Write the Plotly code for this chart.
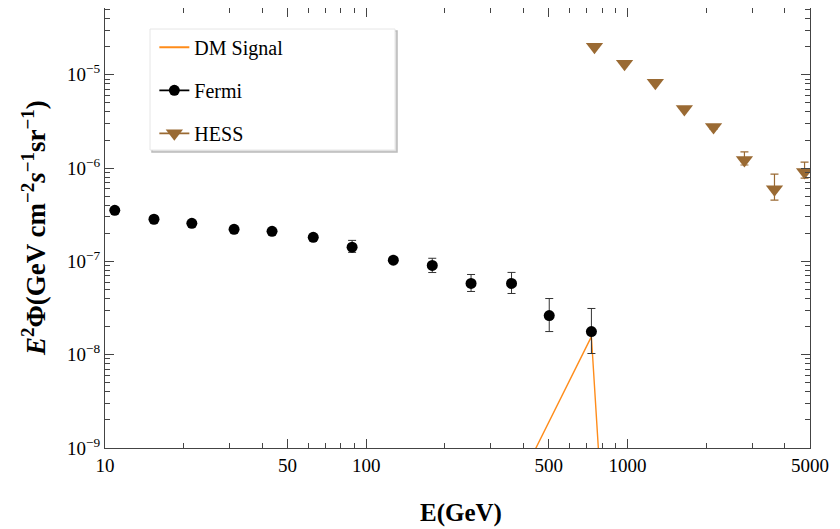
import plotly.graph_objects as go
import numpy as np

# Fermi data
fermi_E = [10.9, 15.4, 21.5, 31.2, 43.6, 62.7, 88.3, 127, 179, 252, 360, 502, 728]
fermi_flux = [3.53e-7, 2.83e-7, 2.56e-7, 2.21e-7, 2.10e-7, 1.81e-7, 1.42e-7, 1.03e-7, 9.06e-8, 5.8e-8, 5.8e-8, 2.63e-8, 1.77e-8]
fermi_hi = [3.6e-7, 2.9e-7, 2.62e-7, 2.38e-7, 2.15e-7, 1.95e-7, 1.68e-7, 1.10e-7, 1.08e-7, 7.24e-8, 7.62e-8, 4.0e-8, 3.13e-8]
fermi_lo = [3.46e-7, 2.76e-7, 2.50e-7, 2.05e-7, 2.05e-7, 1.68e-7, 1.25e-7, 0.96e-7, 7.6e-8, 4.76e-8, 4.53e-8, 1.77e-8, 1.03e-8]

# HESS data
hess_E = [748, 975, 1279, 1652, 2136, 2805, 3656, 4766]
hess_flux = [2.0e-5, 1.31e-5, 8.2e-6, 4.31e-6, 2.76e-6, 1.22e-6, 5.94e-7, 9.06e-7]
hess_hi = [2.0e-5, 1.31e-5, 8.2e-6, 4.31e-6, 2.9e-6, 1.49e-6, 8.6e-7, 1.16e-6]
hess_lo = [2.0e-5, 1.31e-5, 8.2e-6, 4.31e-6, 2.62e-6, 1.08e-6, 4.53e-7, 7.8e-7]

# DM signal
dm_E = [420, 728, 780]
dm_flux = [7.1e-10, 1.56e-8, 7.0e-10]

x_ticks = [10, 50, 100, 500, 1000, 5000]
x_ticklabels = ["10", "50", "100", "500", "1000", "5000"]
y_ticks = [1e-9, 1e-8, 1e-7, 1e-6, 1e-5]
y_ticklabels = ["10<sup>−9</sup>", "10<sup>−8</sup>", "10<sup>−7</sup>", "10<sup>−6</sup>", "10<sup>−5</sup>"]

SERIF = "Liberation Serif"
FERMI_C = "black"
HESS_C = "#9a6a33"
DM_C = "#ff8c1a"
AX_C = "#444444"

fig = go.Figure()

fig.add_trace(go.Scatter(
    x=dm_E, y=dm_flux, mode="lines", name="DM Signal",
    line=dict(color=DM_C, width=1.4), legendgroup="a", showlegend=False,
))
fig.add_trace(go.Scatter(
    x=[None], y=[None], mode="lines", name="DM Signal",
    line=dict(color=DM_C, width=2), legendgroup="a",
))

f_up = [h - v for h, v in zip(fermi_hi, fermi_flux)]
f_dn = [v - l for l, v in zip(fermi_lo, fermi_flux)]
fig.add_trace(go.Scatter(
    x=fermi_E, y=fermi_flux, mode="markers", name="Fermi",
    marker=dict(symbol="circle", size=11, color=FERMI_C),
    error_y=dict(type="data", symmetric=False, array=f_up, arrayminus=f_dn,
                 color="#333333", thickness=1, width=4),
    legendgroup="b", showlegend=False,
))
fig.add_trace(go.Scatter(
    x=[None], y=[None], mode="lines+markers", name="Fermi",
    line=dict(color=FERMI_C, width=1.8),
    marker=dict(symbol="circle", size=11, color=FERMI_C),
    legendgroup="b",
))

h_up = [h - v for h, v in zip(hess_hi, hess_flux)]
h_dn = [v - l for l, v in zip(hess_lo, hess_flux)]
fig.add_trace(go.Scatter(
    x=hess_E, y=hess_flux, mode="markers", name="HESS",
    marker=dict(symbol="triangle-down", size=15, color=HESS_C),
    error_y=dict(type="data", symmetric=False, array=h_up, arrayminus=h_dn,
                 color=HESS_C, thickness=1.2, width=4),
    legendgroup="c", showlegend=False,
))
fig.add_trace(go.Scatter(
    x=[None], y=[None], mode="lines+markers", name="HESS",
    line=dict(color=HESS_C, width=1.8),
    marker=dict(symbol="triangle-down", size=15, color=HESS_C),
    legendgroup="c",
))

# minor tick positions
xminor = [m * 10 ** d for d in range(1, 4) for m in range(2, 10) if m * 10 ** d <= 5000]
yminor = [m * 10.0 ** d for d in range(-9, -4) for m in range(2, 10)]

fig.update_xaxes(
    type="log", range=[np.log10(10), np.log10(5000)],
    tickvals=x_ticks, ticktext=x_ticklabels,
    ticks="inside", ticklen=9, tickcolor=AX_C, tickwidth=1,
    showline=True, linecolor=AX_C, linewidth=1.2, mirror="ticks",
    showgrid=False, zeroline=False,
    tickfont=dict(family=SERIF, size=19, color="black"),
    minor=dict(tickvals=xminor, ticks="inside", ticklen=5, tickcolor=AX_C, showgrid=False),
)
fig.update_yaxes(
    type="log", range=[-9, np.log10(5.2e-5)],
    tickvals=y_ticks, ticktext=y_ticklabels,
    ticks="inside", ticklen=9, tickcolor=AX_C, tickwidth=1,
    showline=True, linecolor=AX_C, linewidth=1.2, mirror="ticks",
    showgrid=False, zeroline=False,
    tickfont=dict(family=SERIF, size=19, color="black"),
    minor=dict(tickvals=yminor, ticks="inside", ticklen=5, tickcolor=AX_C, showgrid=False),
)

# page has an 8px body margin; figure occupies 8..840 x 8..529
OFF = 8
W, H = 840 - OFF, 529 - OFF
L, R, T, B = 105 - OFF, 30, 8 - OFF, 81
fig.update_layout(
    width=W, height=H,
    margin=dict(l=L, r=R, t=T, b=B, pad=0),
    paper_bgcolor="white", plot_bgcolor="white",
    showlegend=True,
    legend=dict(
        x=0.07, y=0.955, xanchor="left", yanchor="top",
        bgcolor="rgba(0,0,0,0)", borderwidth=0,
        font=dict(family=SERIF, size=20, color="black"),
        traceorder="grouped", tracegroupgap=14,
    ),
    font=dict(family=SERIF),
)

pw = W - L - R
ph = H - T - B
def px(xp):
    return (xp - OFF - L) / pw
def py(yp):
    return (H - B - (yp - OFF)) / ph

# legend box (shadow + frame)
fig.add_shape(type="rect", xref="paper", yref="paper",
              x0=px(152), x1=px(397), y0=py(152), y1=py(31),
              line=dict(color="#bbbbbb", width=1.5), fillcolor="#dddddd", layer="above")
fig.add_shape(type="rect", xref="paper", yref="paper",
              x0=px(150), x1=px(395), y0=py(150), y1=py(29),
              line=dict(color="#e6e6e6", width=1), fillcolor="white", layer="above")

fig.add_annotation(
    text="<b>E(GeV)</b>", xref="paper", yref="paper",
    x=px(461), y=py(513), xanchor="center", yanchor="middle",
    showarrow=False, font=dict(family=SERIF, size=25, color="black"),
)
fig.add_annotation(
    text="<b><i>E</i><sup>2</sup>Φ(GeV cm<sup>−2</sup><i>s</i><sup>−1</sup>sr<sup>−1</sup>)</b>",
    xref="paper", yref="paper", x=px(34), y=py(228),
    xanchor="center", yanchor="middle", textangle=-90,
    showarrow=False, font=dict(family=SERIF, size=27, color="black"),
)

fig.write_html("out.html")
